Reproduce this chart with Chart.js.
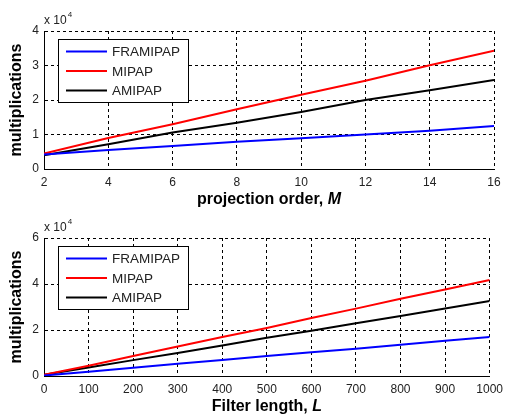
<!DOCTYPE html>
<html>
<head>
<meta charset="utf-8">
<script src="https://cdn.jsdelivr.net/npm/chart.js@4.4.0/dist/chart.umd.min.js"></script>
<style>
  body { margin: 0; background: #fff; }
  canvas { position: absolute; left: 0; }
</style>
</head>
<body>
<canvas id="top" width="509" height="208" style="top:0"></canvas>
<canvas id="bottom" width="509" height="209" style="top:208px"></canvas>
<script>
// upper plot: multiplications (x 10^4) vs projection order M
const orderM = [2, 4, 6, 8, 10, 12, 14, 16];
const framipapM = [0.42, 0.55, 0.67, 0.79, 0.89, 1.00, 1.11, 1.25];
const mipapM = [0.45, 0.90, 1.30, 1.73, 2.15, 2.56, 3.01, 3.43];
const amipapM = [0.40, 0.72, 1.06, 1.34, 1.65, 2.00, 2.28, 2.58];

// lower plot: multiplications (x 10^4) vs filter length L
const lengthL = [0, 100, 200, 300, 400, 500, 600, 700, 800, 900, 1000];
const framipapL = [0.02, 0.19, 0.36, 0.53, 0.70, 0.87, 1.03, 1.19, 1.36, 1.53, 1.70];
const mipapL = [0.05, 0.45, 0.87, 1.28, 1.70, 2.09, 2.52, 2.93, 3.36, 3.76, 4.17];
const amipapL = [0.05, 0.37, 0.69, 1.00, 1.33, 1.66, 1.97, 2.29, 2.61, 2.93, 3.26];

const seriesNames = ['FRAMIPAP', 'MIPAP', 'AMIPAP'];
const seriesColors = ['#0000ff', '#ff0000', '#000000'];

function pts(xs, ys) {
  return xs.map((x, i) => ({ x: x, y: ys[i] }));
}

// draws the texts matlab puts around the axes, plus the boxed legend
const decorPlugin = {
  id: 'decor',
  afterDatasetsDraw(chart, args, opts) {
    const ctx = chart.ctx;
    const a = chart.chartArea;
    ctx.save();
    ctx.fillStyle = '#000';

    // legend
    const bx = a.left + 14, by = a.top + 8, bw = 130, bh = 63;
    ctx.fillStyle = '#fff';
    ctx.fillRect(bx, by, bw, bh);
    ctx.strokeStyle = '#000';
    ctx.lineWidth = 1;
    ctx.strokeRect(bx + 0.5, by + 0.5, bw, bh);
    ctx.font = '13.5px "Liberation Sans", Arial, sans-serif';
    ctx.textBaseline = 'middle';
    chart.data.datasets.forEach((ds, i) => {
      const yy = by + 12.5 + i * 19.5;
      ctx.strokeStyle = ds.borderColor;
      ctx.lineWidth = 2;
      ctx.beginPath();
      ctx.moveTo(bx + 8, yy);
      ctx.lineTo(bx + 49, yy);
      ctx.stroke();
      ctx.fillStyle = '#222';
      ctx.fillText(ds.label, bx + 54, yy + 1);
    });

    // x 10^4
    ctx.fillStyle = '#222';
    ctx.textBaseline = 'alphabetic';
    ctx.font = '12px "Liberation Sans", Arial, sans-serif';
    ctx.fillText('x 10', a.left, a.top - 7);
    const w = ctx.measureText('x 10').width;
    ctx.font = '8px "Liberation Sans", Arial, sans-serif';
    ctx.fillText('4', a.left + w + 1, a.top - 14);

    // y title
    ctx.fillStyle = '#000';
    ctx.font = 'bold 16px "Liberation Sans", Arial, sans-serif';
    ctx.textAlign = 'center';
    ctx.textBaseline = 'middle';
    ctx.save();
    ctx.translate(17, (a.top + a.bottom) / 2);
    ctx.rotate(-Math.PI / 2);
    ctx.fillText('multiplications', 0, 0);
    ctx.restore();

    // x title, variable in italics
    ctx.textAlign = 'left';
    const plain = opts.xTitle, italic = opts.xVar;
    ctx.font = 'bold 16px "Liberation Sans", Arial, sans-serif';
    const w1 = ctx.measureText(plain).width;
    ctx.font = 'italic bold 16px "Liberation Sans", Arial, sans-serif';
    const w2 = ctx.measureText(italic).width;
    const x0 = (a.left + a.right) / 2 - (w1 + w2) / 2;
    const ty = a.bottom + opts.titleGap;
    ctx.font = 'bold 16px "Liberation Sans", Arial, sans-serif';
    ctx.fillText(plain, x0, ty);
    ctx.font = 'italic bold 16px "Liberation Sans", Arial, sans-serif';
    ctx.fillText(italic, x0 + w1, ty);
    ctx.restore();
  }
};

function makeChart(id, xs, ys, xMin, xMax, xStep, yMax, yStep, xTitle, xVar, areaTop, canvasH, gap) {
  const ctx = document.getElementById(id).getContext('2d');
  return new Chart(ctx, {
    type: 'line',
    data: {
      datasets: ys.map((arr, i) => ({
        label: seriesNames[i],
        data: pts(xs, arr),
        borderColor: seriesColors[i],
        backgroundColor: seriesColors[i],
        borderWidth: 2,
        pointRadius: 0,
        tension: 0
      }))
    },
    options: {
      responsive: false,
      animation: false,
      layout: { padding: { top: areaTop, right: 15, left: 0, bottom: 0 } },
      plugins: {
        legend: { display: false },
        tooltip: { enabled: false },
        decor: { xTitle: xTitle, xVar: xVar, titleGap: gap }
      },
      scales: {
        x: {
          type: 'linear',
          min: xMin,
          max: xMax,
          afterFit: s => { s.height = canvasH - areaTop - 138; },
          ticks: {
            stepSize: xStep,
            padding: 6,
            color: '#222',
            callback: v => String(v),
            font: { family: '"Liberation Sans", Arial, sans-serif', size: 12 }
          },
          grid: { color: '#000', lineWidth: 1, drawTicks: false },
          border: { display: true, color: '#000', width: 1, dash: [3, 3] }
        },
        y: {
          min: 0,
          max: yMax,
          afterFit: s => { s.width = 44; },
          ticks: {
            stepSize: yStep,
            padding: 5,
            color: '#222',
            font: { family: '"Liberation Sans", Arial, sans-serif', size: 12 }
          },
          grid: { color: '#000', lineWidth: 1, drawTicks: false },
          border: { display: true, color: '#000', width: 1, dash: [3, 3] }
        }
      }
    },
    plugins: [decorPlugin]
  });
}

makeChart('top', orderM, [framipapM, mipapM, amipapM], 2, 16, 2, 4, 1,
  'projection order, ', 'M', 31, 208, 31);
makeChart('bottom', lengthL, [framipapL, mipapL, amipapL], 0, 1000, 100, 6, 2,
  'Filter length, ', 'L', 30, 209, 31);
</script>
</body>
</html>
